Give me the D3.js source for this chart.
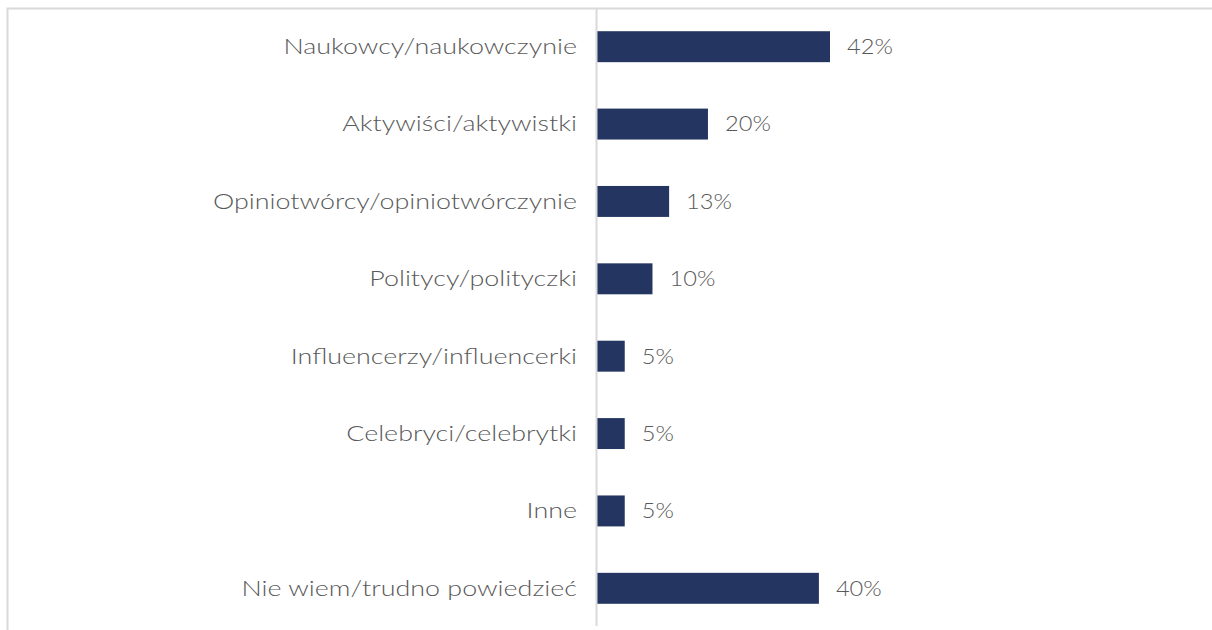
<!DOCTYPE html>
<html>
<head>
<meta charset="utf-8">
<script src="https://cdn.jsdelivr.net/npm/d3@7"></script>
<style>
  body { margin: 0; background: #fff; }
  svg text { font-family: "Century Gothic", "Lato", "DejaVu Sans", sans-serif; font-weight: 300; fill: #595959; }
</style>
</head>
<body>
<script>
// data
var categories = [
    "Naukowcy/naukowczynie",
    "Aktywiści/aktywistki",
    "Opiniotwórcy/opiniotwórczynie",
    "Politycy/polityczki",
    "Influencerzy/influencerki",
    "Celebryci/celebrytki",
    "Inne",
    "Nie wiem/trudno powiedzieć"
];
var values = [42, 20, 13, 10, 5, 5, 5, 40];

var W = 1212, H = 630;
var axisX = 597;
var longestLabel = 364; // width of the widest category label in the original

var svg = d3.select("body").append("svg")
    .attr("width", W)
    .attr("height", H);

// frame
svg.append("path")
    .attr("d", "M7.5," + H + "V8.5H" + W)
    .attr("fill", "none")
    .attr("stroke", "#d9d9d9")
    .attr("stroke-width", 2);

var x = d3.scaleLinear().domain([0, 42]).range([axisX, 830]);
var y = d3.scaleBand().domain(categories).range([8, 627]).paddingInner(0.6).paddingOuter(0.3);

// bars
svg.selectAll("rect.bar")
    .data(values)
    .enter().append("rect")
    .attr("class", "bar")
    .attr("x", x(0))
    .attr("y", function(d, i){ return y(categories[i]); })
    .attr("width", function(d){ return x(d) - x(0); })
    .attr("height", y.bandwidth())
    .attr("fill", "#243561");

// axis line
svg.append("line")
    .attr("x1", axisX - 0.5).attr("x2", axisX - 0.5)
    .attr("y1", 8).attr("y2", 626)
    .attr("stroke", "#d9d9d9")
    .attr("stroke-width", 2);

// category labels
var cats = svg.selectAll("text.cat")
    .data(categories)
    .enter().append("text")
    .attr("class", "cat")
    .attr("x", axisX - 20)
    .attr("y", function(d){ return y(d) + y.bandwidth() / 2; })
    .attr("dy", "0.35em")
    .attr("text-anchor", "end")
    .style("font-size", "21px")
    .text(function(d){ return d; });

// value labels
var vals = svg.selectAll("text.val")
    .data(values)
    .enter().append("text")
    .attr("class", "val")
    .attr("x", function(d){ return x(d) + 17; })
    .attr("y", function(d, i){ return y(categories[i]) + y.bandwidth() / 2; })
    .attr("dy", "0.35em")
    .style("font-size", "21px")
    .text(function(d){ return d + "%"; });

// the original face is much wider than the fallback one: stretch to fit
var widest = d3.max(cats.nodes(), function(n){ return n.getComputedTextLength(); });
var k = longestLabel / widest;
cats.each(function(){
    d3.select(this).attr("textLength", this.getComputedTextLength() * k).attr("lengthAdjust", "spacingAndGlyphs");
});
vals.each(function(){
    d3.select(this).attr("textLength", this.getComputedTextLength() * k * 0.88).attr("lengthAdjust", "spacingAndGlyphs");
});
</script>
</body>
</html>
